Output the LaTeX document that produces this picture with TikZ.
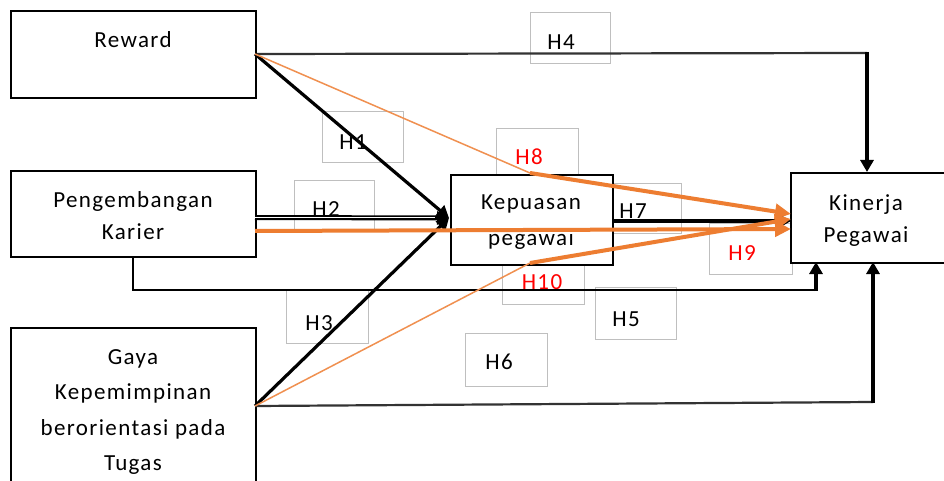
\documentclass[tikz,border=0pt]{standalone}
\usepackage{fontspec}
\setmainfont{Carlito}[LetterSpace=6]
\usetikzlibrary{arrows.meta}
\definecolor{org}{HTML}{ED7D31}
\definecolor{hred}{HTML}{FF0000}
\begin{document}
\begin{tikzpicture}[x=1pt,y=-1pt,
  box/.style={draw=black,line width=1.8pt,fill=white,inner sep=0pt,anchor=north west},
  hbox/.style={draw=black!25,line width=0.9pt,inner sep=0pt,anchor=north west},
  txt/.style={font=\fontsize{23}{33}\selectfont,align=center,inner sep=0pt},
  htxt/.style={font=\fontsize{23}{25}\selectfont,inner sep=0pt},
  redtxt/.style={htxt,text=hred},
  conn/.style={line width=3.2pt,draw=black},
  thin/.style={line width=2.2pt,draw=black!80},
  tip/.style={-{Triangle[length=12pt,width=13pt]}},
  otip/.style={-{Triangle[length=16pt,width=15pt]}},
  othick/.style={line width=4pt,draw=org},
  othin/.style={line width=1.5pt,draw=org!85},
]
\useasboundingbox (0,0) rectangle (944,481);
\clip (0,0) rectangle (944,481);
\fill[white] (0,0) rectangle (944,481);

% label boxes
\node[hbox,minimum width=80pt,minimum height=51pt] (b4) at (530,12) {};
\node[hbox,minimum width=81pt,minimum height=51pt] (b1) at (322,111) {};
\node[hbox,minimum width=82pt,minimum height=52pt] (b8) at (496,128) {};
\node[hbox,minimum width=80pt,minimum height=50pt] (b2) at (294,180) {};
\node[hbox,minimum width=68pt,minimum height=50pt] (b7) at (613,183) {};
\node[hbox,minimum width=83pt,minimum height=51pt] (b9) at (709,223) {};
\node[hbox,minimum width=82pt,minimum height=54pt] (b10) at (502,250) {};
\node[hbox,minimum width=81pt,minimum height=52pt] (b5) at (595,287) {};
\node[hbox,minimum width=82pt,minimum height=53pt] (b6) at (465,333) {};
\node[hbox,minimum width=82pt,minimum height=53pt] (b3) at (286,290) {};

\node[htxt] (t4) at (561,42) {H4};
\node[htxt] (t1) at (353,142) {H1};
\node[redtxt] (t8) at (529,157) {H8};
\node[htxt] (t2) at (326,209) {H2};
\node[htxt] (t7) at (633,211) {H7};
\node[redtxt] (t9) at (742,253) {H9};
\node[redtxt] (t10) at (542,282) {H10};
\node[htxt] (t5) at (626,319) {H5};
\node[htxt] (t6) at (499,362) {H6};
\node[htxt] (t3) at (319,323) {H3};

% main boxes
\node[box,minimum width=245pt,minimum height=87pt] (rw) at (10,10) {};
\node[box,minimum width=245pt,minimum height=86pt] (pk) at (10,170) {};
\node[box,minimum width=245pt,minimum height=200pt] (gk) at (10,327) {};
\node[box,minimum width=162pt,minimum height=90pt] (kp) at (450,174) {};
\node[box,minimum width=200pt,minimum height=90pt] (kn) at (790,172) {};

\node[txt] (rwt) at (133,40) {Reward};
\node[txt,font=\fontsize{23}{32}\selectfont] (pkt) at (133,216) {Pengembangan\\Karier};
\node[txt,font=\fontsize{23}{35.5}\selectfont] (gkt) at (133,412) {Gaya\\Kepemimpinan\\berorientasi pada\\Tugas};
\node[txt,font=\fontsize{23}{36}\selectfont] (kpt) at (531,222) {Kepuasan\\pegawai};
\node[txt,font=\fontsize{23}{32}\selectfont] (knt) at (866,221) {Kinerja\\Pegawai};

% coordinates
\coordinate (rwE) at (255,54);
\coordinate (pkE1) at (255,217.5);
\coordinate (pkE2) at (255,231);
\coordinate (pkS) at (133,256);
\coordinate (gkE) at (255,406);
\coordinate (kpW) at (449,218);
\coordinate (kpWb) at (435,217.5);
\coordinate (kpE) at (612,221);
\coordinate (knW1) at (791,214);
\coordinate (knW2) at (791,229);
\coordinate (knW3) at (791,219);
\coordinate (knW7) at (791,221);
\coordinate (knN) at (867,172);
\coordinate (knS1) at (816,262);
\coordinate (knS2) at (873,262);
\coordinate (h8m) at (530,173);
\coordinate (h10m) at (530,263);

% H4
\draw[thin] (rwE) -- (867,53);
\draw[conn,tip] (867,52) -- (knN);
% H1
\draw[conn,tip] (rwE) -- (kpW);
% H2 (double line)
\draw[conn,line width=5pt,tip] (pkE1) -- (kpW);
\draw[white,line width=1.3pt] (pkE1) -- (kpWb);
% H3
\draw[conn,tip] (gkE) -- (kpW);
% H5
\draw[line width=2pt,draw=black] (pkS) -- (133,290) -- (816,290);
\draw[conn,tip] (816,291) -- (knS1);
% H6
\draw[thin] (gkE) -- (873,402);
\draw[conn,tip] (873,403) -- (knS2);
% H7
\draw[conn,tip] (kpE) -- (knW7);
% H8
\draw[othin] (rwE) -- (h8m);
\draw[othick,otip] (h8m) -- (knW1);
% H9
\draw[othick,otip] (pkE2) -- (knW2);
% H10
\draw[othin] (gkE) -- (h10m);
\draw[othick,otip] (h10m) -- (knW3);
\end{tikzpicture}
\end{document}
